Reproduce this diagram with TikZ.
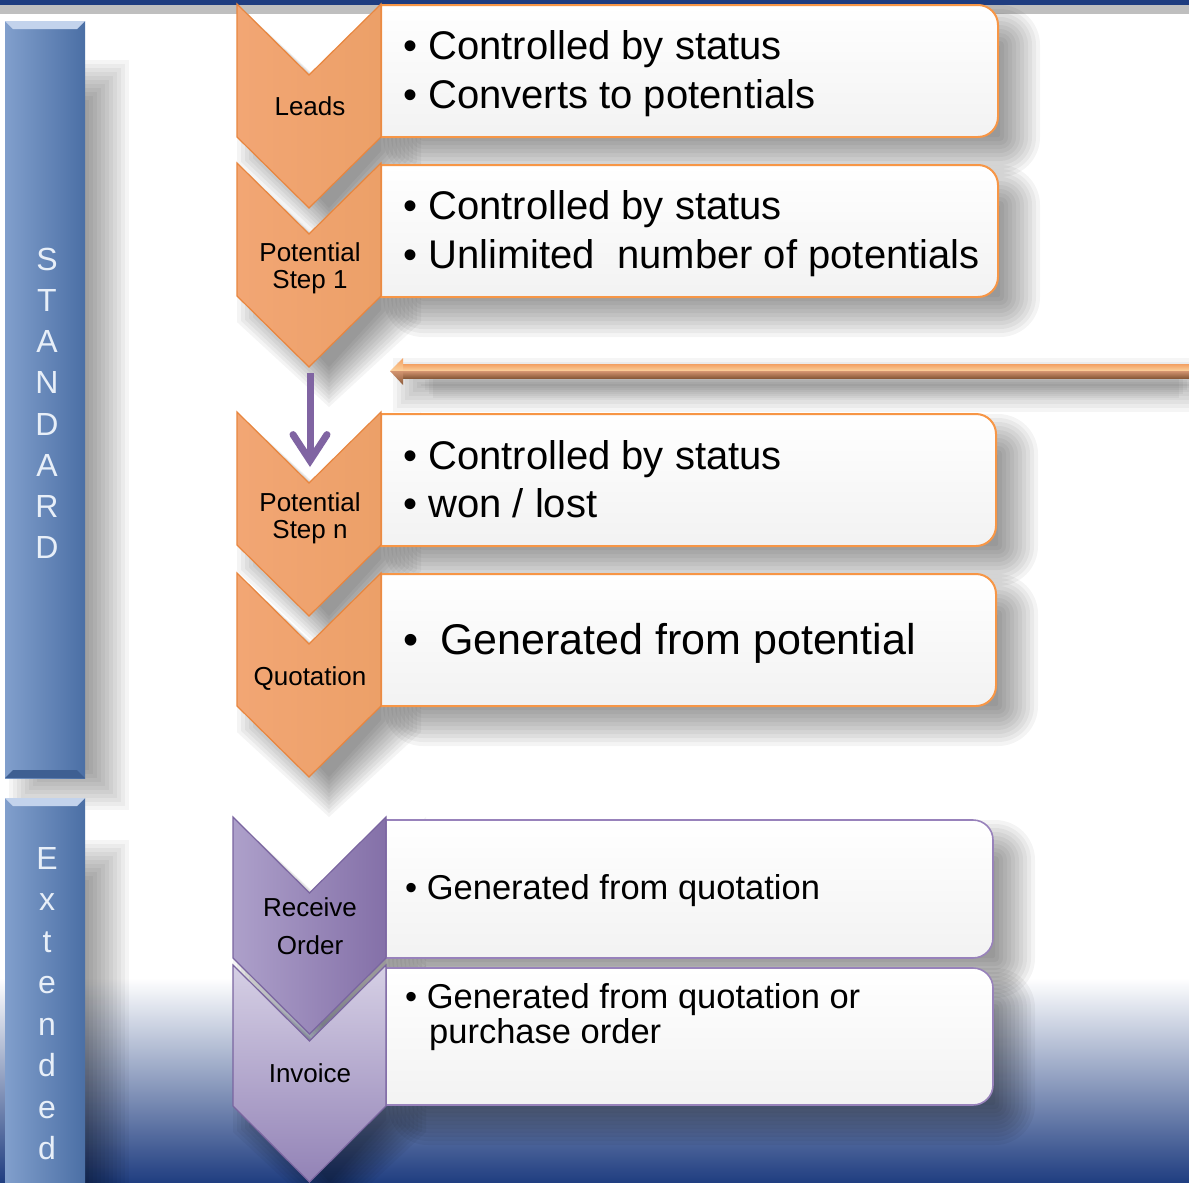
\documentclass[tikz,border=0pt]{standalone}
\usepackage{fontspec}
\setmainfont{Liberation Sans}
\usetikzlibrary{arrows.meta,calc}
\definecolor{navy}{HTML}{1F3D80}
\definecolor{bandgray}{HTML}{BFBFBF}
\definecolor{orb}{HTML}{F79646}
\definecolor{orbd}{HTML}{E8863F}
\definecolor{purb}{HTML}{9882BB}
\definecolor{purd}{HTML}{7A65A0}
\definecolor{arrpur}{HTML}{8064A2}
\definecolor{lettc}{HTML}{E8EFF8}
\definecolor{gradmid}{HTML}{A9B6D2}
\definecolor{barL}{HTML}{819FCC}
\definecolor{barM}{HTML}{93ADD5}
\definecolor{barR}{HTML}{4B6FA5}
\definecolor{barHi}{HTML}{C3D3EC}
\definecolor{barLo}{HTML}{3E5F92}
\definecolor{oaT}{HTML}{F3A062}
\definecolor{oaH}{HTML}{FCD29E}
\definecolor{oaM}{HTML}{D39470}
\definecolor{oaB}{HTML}{8A5A3A}
\definecolor{ocL}{HTML}{F2A674}
\definecolor{ocM}{HTML}{F8BE9A}
\definecolor{ocR}{HTML}{ECA068}
\definecolor{rcL}{HTML}{ADA0CA}
\definecolor{rcM}{HTML}{A090C0}
\definecolor{rcR}{HTML}{8470A8}
\definecolor{icT}{HTML}{D6D0E5}
\definecolor{icB}{HTML}{9282B6}
\newcommand\rbx[5]{%
  \path[#1] (#2,#4) -- ({#3-20},#4) arc[start angle=90,end angle=0,radius=20pt]
    -- (#3,{#5+20}) arc[start angle=0,end angle=-90,radius=20pt] -- (#2,#5) -- cycle;}
\newcommand\chev[6]{%
  \path[#1] (#2,#4) -- ({(#2+#3)/2},{#4-#5}) -- (#3,#4) -- (#3,{#4-#6})
    -- ({(#2+#3)/2},{#4-#6-#5}) -- (#2,{#4-#6}) -- cycle;}
% soft shadow of a box: x1 x2 ytop ybot
\newcommand\shbox[4]{%
  \foreach \k in {0,...,10}{%
    \pgfmathsetmacro\o{20-4*\k}\pgfmathsetmacro\rr{max(2,20+\o)}%
    \fill[black,opacity=0.045,rounded corners=\rr pt] ({#1+22-\o},{#3-20+\o}) rectangle ({#2+22+\o},{#4-20-\o});}}
% soft shadow of a chevron: xl xr ytop depth height
\newcommand\shchev[5]{%
  \foreach \k in {0,...,10}{%
    \pgfmathsetmacro\o{20-4*\k}%
    \pgfmathsetmacro\cx{(#1+#2)/2}\pgfmathsetmacro\cy{#3-(#5+#4)/2}%
    \pgfmathsetmacro\sx{1+2*\o/(#2-#1)}\pgfmathsetmacro\sy{1+2*\o/(#5+#4)}%
    \begin{scope}[shift={(\cx+20,\cy-20)},xscale=\sx,yscale=\sy,shift={(-\cx,-\cy)}]
      \chev{fill=black,opacity=0.045}{#1}{#2}{#3}{#4}{#5}
    \end{scope}}}
% soft shadow of a plain rectangle: x1 x2 ytop ybot dx dy
\newcommand\shrect[6]{%
  \foreach \k in {0,...,10}{%
    \pgfmathsetmacro\o{20-4*\k}%
    \fill[black,opacity=0.04] ({#1+#5-\o},{#3+#6+\o}) rectangle ({#2+#5+\o},{#4+#6-\o});}}
\begin{document}
\begin{tikzpicture}[x=1pt,y=1pt,
  barfill/.style={left color=barL,middle color=barM,right color=barR},
  obox/.style={top color=white,bottom color=black!5,draw=orb,line width=2pt},
  pbox/.style={top color=white,bottom color=black!5,draw=purb,line width=1.6pt},
  ochev/.style={left color=ocL,middle color=ocM,right color=ocR,draw=orbd,line width=1.2pt},
  rchev/.style={left color=rcL,middle color=rcM,right color=rcR,draw=purd,line width=1.2pt},
  ichev/.style={top color=icT,bottom color=icB,draw=purd,line width=1.2pt},
  boxtxt/.style={anchor=base west,inner sep=0pt,font=\fontsize{40}{40}\selectfont},
  boxtxtb/.style={anchor=base west,inner sep=0pt,font=\fontsize{43}{43}\selectfont},
  boxtxts/.style={anchor=base west,inner sep=0pt,font=\fontsize{34.5}{34.5}\selectfont},
  chevtxt/.style={anchor=base,inner sep=0pt,font=\fontsize{26}{26}\selectfont},
  vlet/.style={anchor=base,inner sep=0pt,text=lettc,font=\fontsize{32}{32}\selectfont},
]
\useasboundingbox (0,0) rectangle (1189,-1183);
\fill[white] (0,0) rectangle (1189,-1183);
% bottom gradient
\shade[top color=white,middle color=gradmid,bottom color=navy] (0,-978) rectangle (1189,-1183);
% top bands
\fill[navy] (0,0) rectangle (1189,-5);
\fill[bandgray] (0,-5) rectangle (1189,-14);
% shadows
\shrect{5}{85}{-60}{-770}{24}{-20}
\shrect{5}{85}{-840}{-1190}{24}{-20}
\shrect{403}{1189}{-364}{-378}{10}{-14}
\shbox{381}{998}{-5}{-137}
\shbox{381}{998}{-165}{-297}
\shbox{381}{996}{-414}{-546}
\shbox{381}{996}{-574}{-706}
\shbox{386}{993}{-820}{-958}
\shbox{386}{993}{-968}{-1105}
\shchev{237}{381}{-4}{71}{133}
\shchev{237}{381}{-163}{71}{133}
\shchev{237}{381}{-412}{71}{133}
\shchev{237}{381}{-573}{71}{133}
\shchev{233}{386}{-817}{76}{141}
\shchev{233}{386}{-965}{76}{141}
% left bars
\path[barfill] (5,-21) rectangle (85,-778);
\fill[barHi] (5,-21) -- (85,-21) -- (77,-29) -- (13,-29) -- cycle;
\fill[barLo] (5,-778) -- (85,-778) -- (77,-770) -- (13,-770) -- cycle;
\path[barfill] (5,-798) rectangle (85,-1190);
\fill[barHi] (5,-798) -- (85,-798) -- (77,-806) -- (13,-806) -- cycle;
% letters
\foreach \l/\y [count=\i] in {S/270,T/311,A/352,N/393,D/435,A/476,R/517,D/558}
  \node[vlet] (st\i) at (47,-\y) {\l};
\foreach \l/\y [count=\i] in {E/869,x/910,t/952,e/993,n/1035,d/1076,e/1118,d/1159}
  \node[vlet] (ex\i) at (47,-\y) {\l};
% orange arrow (from right edge to tip)
\coordinate (ot) at (390,-371);
\coordinate (oe) at (1189,-371);
\shade[top color=oaT,bottom color=oaH] ($(ot)+(13,7)$) rectangle ($(oe)+(0,0)$);
\shade[top color=oaM,bottom color=oaB] ($(ot)+(13,0)$) rectangle ($(oe)+(0,-7)$);
\shade[top color=oaT,bottom color=oaH] (ot) -- ($(ot)+(13,13)$) -- ($(ot)+(13,0)$) -- cycle;
\shade[top color=oaM,bottom color=oaB] (ot) -- ($(ot)+(13,0)$) -- ($(ot)+(13,-14)$) -- cycle;
% boxes
\rbx{obox}{381}{998}{-5}{-137}
\rbx{obox}{381}{998}{-165}{-297}
\rbx{obox}{381}{996}{-414}{-546}
\rbx{obox}{381}{996}{-574}{-706}
\rbx{pbox}{386}{993}{-820}{-958}
\rbx{pbox}{386}{993}{-968}{-1105}
% chevrons
\chev{ochev}{237}{381}{-4}{71}{133}
\chev{ochev}{237}{381}{-163}{71}{133}
\chev{ochev}{237}{381}{-412}{71}{133}
\chev{ochev}{237}{381}{-573}{71}{133}
\chev{ichev}{233}{386}{-965}{76}{141}
\chev{rchev}{233}{386}{-817}{76}{141}
% chevron labels
\node[chevtxt] (cLeads) at (310,-115) {Leads};
\node[chevtxt] (cP1a) at (310,-261) {Potential};
\node[chevtxt] (cP1b) at (310,-288) {Step 1};
\node[chevtxt] (cPna) at (310,-511) {Potential};
\node[chevtxt] (cPnb) at (310,-538) {Step n};
\node[chevtxt] (cQuot) at (310,-685) {Quotation};
\node[chevtxt] (cRa) at (310,-916) {Receive};
\node[chevtxt] (cRb) at (310,-954) {Order};
\node[chevtxt] (cInv) at (310,-1082) {Invoice};
% box texts
\node[boxtxt] (t1a) at (403,-59) {• Controlled by status};
\node[boxtxt] (t1b) at (403,-108) {• Converts to potentials};
\node[boxtxt] (t2a) at (403,-219) {• Controlled by status};
\node[boxtxt] (t2b) at (403,-268) {• Unlimited~ number of potentials};
\node[boxtxt] (t3a) at (403,-469) {• Controlled by status};
\node[boxtxt] (t3b) at (403,-517) {• won / lost};
\node[boxtxtb] (t4a) at (403,-654) {•\hspace{22pt}Generated from potential};
\node[boxtxts] (t5a) at (405,-899) {• Generated from quotation};
\node[boxtxts] (t6a) at (405,-1008) {• Generated from quotation or};
\node[boxtxts] (t6b) at (429,-1043) {purchase order};
% purple arrow
\coordinate (pa) at (310,-373);
\coordinate (pb) at (310,-467);
\draw[line width=7pt,color=arrpur,-{Straight Barb[length=26pt,width=34pt,line cap=round]}] (pa) -- (pb);
\end{tikzpicture}
\end{document}
